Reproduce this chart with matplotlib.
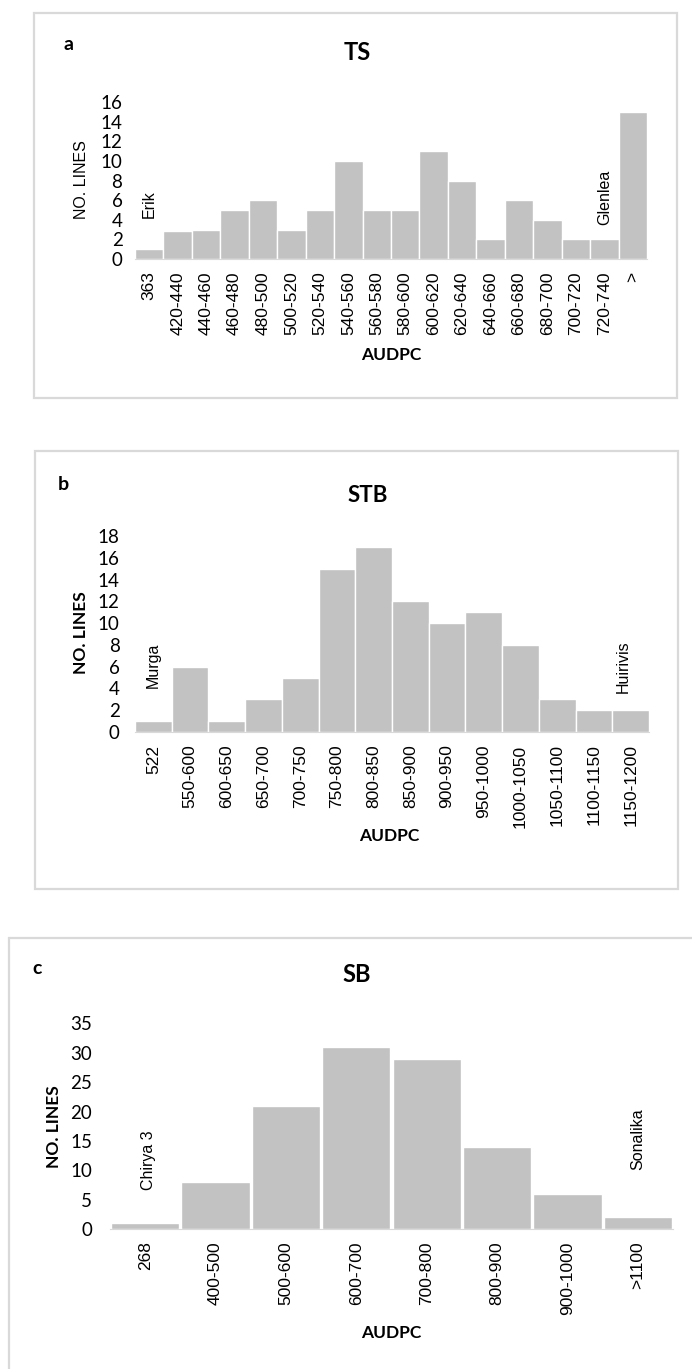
import matplotlib
matplotlib.use("Agg")
import matplotlib.pyplot as plt
from matplotlib.patches import Rectangle

# ---- data ----
ts_labels = ['363', '420-440', '440-460', '460-480', '480-500', '500-520', '520-540',
             '540-560', '560-580', '580-600', '600-620', '620-640', '640-660', '660-680',
             '680-700', '700-720', '720-740', '>']
ts_counts = [1, 2.85, 3, 5, 6, 3, 5, 10, 5, 5, 11, 8, 2, 6, 4, 2, 2, 15]

stb_labels = ['522', '550-600', '600-650', '650-700', '700-750', '750-800', '800-850',
              '850-900', '900-950', '950-1000', '1000-1050', '1050-1100', '1100-1150',
              '1150-1200']
stb_counts = [1, 6, 1, 3, 5, 15, 17, 12, 10, 11, 8, 3, 2, 2]

sb_labels = ['268', '400-500', '500-600', '600-700', '700-800', '800-900', '900-1000', '>1100']
sb_counts = [1, 8, 21, 31, 29, 14, 6, 2]

W, H = 692, 1369
BAR = '#c2c2c2'
FRAME = '#d9d9d9'
CAL = ['Lato', 'DejaVu Sans']          # stand-in for Calibri
ARI = ['Liberation Sans', 'DejaVu Sans']  # stand-in for Arial

fig = plt.figure(figsize=(W / 100, H / 100), dpi=100)


def fx(x):
    return x / W


def fy(y):
    return 1 - y / H


def frame(x0, y0, x1, y1):
    fig.patches.append(Rectangle((fx(x0), fy(y1)), fx(x1 - x0), (y1 - y0) / H,
                                 transform=fig.transFigure, fill=False,
                                 edgecolor=FRAME, lw=1.6, zorder=0))


def panel(box, labels, counts, ymax, ystep, width, ypad):
    left, top, right, bottom = box
    ax = fig.add_axes([fx(left), fy(bottom), fx(right - left), (bottom - top) / H])
    x = range(len(counts))
    ax.bar(x, counts, width=width, color=BAR, edgecolor='white', linewidth=1.0)
    ax.set_xlim(-0.5, len(counts) - 0.5)
    ax.set_ylim(0, ymax)
    ax.set_yticks(range(0, ymax + 1, ystep))
    ax.set_xticks(list(x))
    ax.set_xticklabels(labels, rotation=90, family=ARI, fontsize=12.5)
    for t in ax.get_yticklabels():
        t.set_family(CAL)
        t.set_fontsize(13.5)
    ax.tick_params(axis='both', length=0)
    ax.tick_params(axis='x', pad=9)
    ax.tick_params(axis='y', pad=ypad)
    for s in ['top', 'right', 'left']:
        ax.spines[s].set_visible(False)
    ax.spines['bottom'].set_color('#d9d9d9')
    ax.patch.set_alpha(0)
    return ax


# ---------- panel a ----------
frame(34, 13, 677, 398)
ax_a = panel((135, 102, 647, 259), ts_labels, ts_counts, 16, 2, 1.0, 9)
fig.text(fx(68), fy(45), 'a', family=CAL, fontsize=14, fontweight='bold', ha='center', va='center')
fig.text(fx(357), fy(53), 'TS', family=CAL, fontsize=17, fontweight='bold', ha='center', va='center')
fig.text(fx(81), fy(180), 'NO. LINES', family=ARI, fontsize=11.5, rotation=90, ha='center', va='center')
fig.text(fx(391), fy(355), 'AUDPC', family=CAL, fontsize=12.5, fontweight='bold', ha='center', va='center')
ax_a.text(0, 4.2, 'Erik', family=ARI, fontsize=11.5, rotation=90, ha='center', va='bottom')
ax_a.text(16, 3.5, 'Glenlea', family=ARI, fontsize=11.5, rotation=90, ha='center', va='bottom')

# ---------- panel b ----------
frame(35, 451, 678, 889)
ax_b = panel((135, 536, 649, 732), stb_labels, stb_counts, 18, 2, 1.0, 11)
fig.text(fx(63), fy(485), 'b', family=CAL, fontsize=14, fontweight='bold', ha='center', va='center')
fig.text(fx(368), fy(495), 'STB', family=CAL, fontsize=16, fontweight='bold', ha='center', va='center')
fig.text(fx(81), fy(633), 'NO. LINES', family=CAL, fontsize=12.5, fontweight='bold', rotation=90,
         ha='center', va='center')
fig.text(fx(389), fy(836), 'AUDPC', family=CAL, fontsize=12.5, fontweight='bold', ha='center', va='center')
ax_b.text(0, 4.0, 'Murga', family=ARI, fontsize=11.5, rotation=90, ha='center', va='bottom')
ax_b.text(12.8, 3.6, 'Huirivis', family=ARI, fontsize=11.5, rotation=90, ha='center', va='bottom')

# ---------- panel c ----------
frame(9, 938, 720, 1400)
ax_c = panel((110, 1023.5, 673, 1229), sb_labels, sb_counts, 35, 5, 0.97, 13)
fig.text(fx(37), fy(969), 'c', family=CAL, fontsize=14, fontweight='bold', ha='center', va='center')
fig.text(fx(357), fy(975), 'SB', family=CAL, fontsize=17, fontweight='bold', ha='center', va='center')
fig.text(fx(54), fy(1127), 'NO. LINES', family=CAL, fontsize=12.5, fontweight='bold', rotation=90,
         ha='center', va='center')
fig.text(fx(391), fy(1333), 'AUDPC', family=CAL, fontsize=12.5, fontweight='bold', ha='center', va='center')
ax_c.text(0.05, 6.6, 'Chirya 3', family=ARI, fontsize=11.5, rotation=90, ha='center', va='bottom')
ax_c.text(7.0, 10, 'Sonalika', family=ARI, fontsize=11.5, rotation=90, ha='center', va='bottom')

fig.savefig('out.png', dpi=100, facecolor='white')
